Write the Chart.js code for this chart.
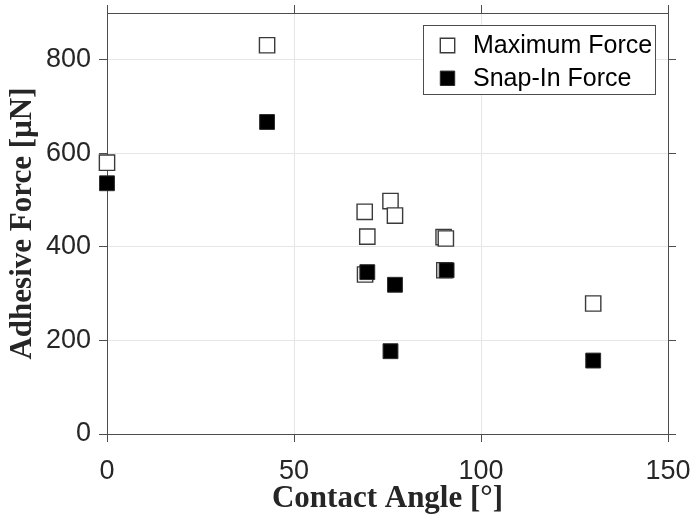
<!DOCTYPE html>
<html>
<head>
<meta charset="utf-8">
<script src="https://cdn.jsdelivr.net/npm/chart.js@4/dist/chart.umd.min.js"></script>
<style>
    html, body { margin: 0; padding: 0; background: #fff; }
    canvas { display: block; }
</style>
</head>
<body>
<canvas id="forceChart" width="691" height="525"></canvas>
<script>
const angleMax = [0, 42.8, 68.9, 69.6, 69, 75.8, 77, 90, 90.6, 90.2, 130];
const forceMax = [580, 831, 475, 422, 341, 498, 467, 421, 418, 350, 279];

const angleSnap = [0, 42.8, 69.6, 75.8, 77, 90.8, 130];
const forceSnap = [536, 667, 346, 177, 319, 350, 157];

const xRange = [0, 150];
const yRange = [0, 900];
const xStep = 50;
const yStep = 200;

const axisColor = "#4d4d4d";
const gridColor = "#e6e6e6";
const textColor = "#262626";
const tickFont = { family: "'Liberation Sans', Arial, sans-serif", size: 27 };
const titleFont = { family: "'Liberation Serif', 'Times New Roman', serif", size: 31, weight: "bold", lineHeight: 1 };

function toPoints(xs, ys) {
    return xs.map((x, i) => ({ x, y: ys[i] }));
}

// pin the axis box size and drop the label overflow padding chart.js adds
function fixSize(size, horizontal) {
    return (scale) => {
        if (horizontal) scale.height = size;
        else scale.width = size;
        scale.paddingTop = 0;
        scale.paddingBottom = 0;
        scale.paddingLeft = 0;
        scale.paddingRight = 0;
    };
}

function createAxis(position, range, step, overrides = {}) {
    return {
        type: "linear",
        position,
        min: range[0],
        max: range[1],
        ticks: { stepSize: step, includeBounds: false, display: false },
        grid: { color: gridColor, tickColor: axisColor, tickLength: 8, drawOnChartArea: false },
        border: { color: axisColor, width: 1 },
        ...overrides,
    };
}

const boxLegend = {
    id: "boxLegend",
    afterDatasetsDraw(chart, args, opts) {
        const { ctx, chartArea } = chart;
        const left = chartArea.right - opts.offsetRight - opts.width;
        const top = chartArea.top + opts.offsetTop;

        ctx.save();
        ctx.fillStyle = "#fff";
        ctx.fillRect(left, top, opts.width, opts.height);
        ctx.strokeStyle = axisColor;
        ctx.lineWidth = 1;
        ctx.strokeRect(left + 0.5, top + 0.5, opts.width, opts.height);

        chart.data.datasets.forEach((ds, i) => {
            const y = top + opts.firstRow + i * opts.rowGap;
            ctx.fillStyle = ds.backgroundColor;
            ctx.strokeStyle = ds.borderColor;
            ctx.lineWidth = ds.borderWidth;
            Chart.helpers.drawPoint(
                ctx,
                { pointStyle: "rect", radius: opts.symbolRadius, rotation: 0, borderWidth: ds.borderWidth },
                left + opts.symbolX,
                y,
            );
            ctx.fillStyle = "#000";
            ctx.font = opts.font;
            ctx.textAlign = "left";
            ctx.textBaseline = "middle";
            ctx.fillText(ds.label, left + opts.textX, y + 1);
        });
        ctx.restore();
    },
};

new Chart(document.getElementById("forceChart"), {
    type: "scatter",
    data: {
        datasets: [
            {
                label: "Maximum Force",
                data: toPoints(angleMax, forceMax),
                pointStyle: "rect",
                pointRadius: 10.8,
                backgroundColor: "#fff",
                borderColor: "#3a3a3a",
                borderWidth: 1.4,
                clip: false,
                order: 2,
            },
            {
                label: "Snap-In Force",
                data: toPoints(angleSnap, forceSnap),
                pointStyle: "rect",
                pointRadius: 10.5,
                backgroundColor: "#000",
                borderColor: "#2a2a2a",
                borderWidth: 1,
                clip: false,
                order: 1,
            },
        ],
    },
    options: {
        responsive: false,
        animation: false,
        events: [],
        layout: { padding: 0, autoPadding: false },
        plugins: {
            legend: { display: false },
            tooltip: { enabled: false },
            boxLegend: {
                width: 232,
                height: 69,
                offsetRight: 13,
                offsetTop: 12,
                firstRow: 20.5,
                rowGap: 32.8,
                symbolX: 24.5,
                symbolRadius: 10.2,
                textX: 50,
                font: "25px 'Liberation Sans', Arial, sans-serif",
            },
        },
        scales: {
            x: createAxis("bottom", xRange, xStep, {
                ticks: {
                    stepSize: xStep,
                    includeBounds: false,
                    color: textColor,
                    padding: 13,
                    maxRotation: 0,
                    font: tickFont,
                },
                grid: { color: gridColor, tickColor: axisColor, tickLength: 8 },
                title: {
                    display: true,
                    text: "Contact Angle [°]",
                    color: textColor,
                    font: titleFont,
                    padding: { top: 0, bottom: 11 },
                },
                afterFit: fixSize(91, true),
            }),
            y: createAxis("left", yRange, yStep, {
                ticks: {
                    stepSize: yStep,
                    includeBounds: false,
                    color: textColor,
                    padding: 8,
                    font: tickFont,
                },
                grid: { color: gridColor, tickColor: axisColor, tickLength: 8 },
                title: {
                    display: true,
                    text: "Adhesive Force [µN]",
                    color: textColor,
                    font: titleFont,
                    padding: { top: 7, bottom: 0 },
                },
                afterFit: fixSize(107, false),
            }),
            xTop: createAxis("top", xRange, xStep, { afterFit: fixSize(13, true) }),
            yRight: createAxis("right", yRange, yStep, { afterFit: fixSize(23, false) }),
        },
    },
    plugins: [boxLegend],
});
</script>
</body>
</html>
